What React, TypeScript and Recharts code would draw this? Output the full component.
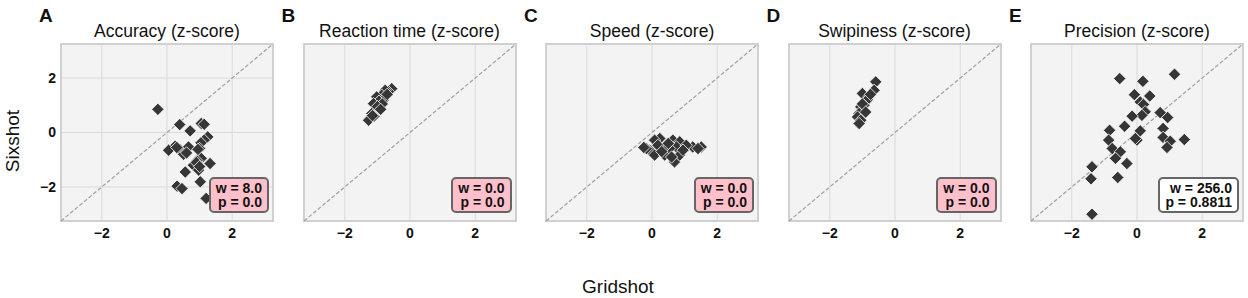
import React from "react";
import {
  ScatterChart,
  Scatter,
  XAxis,
  YAxis,
  CartesianGrid,
  ReferenceLine,
  ReferenceArea,
} from "recharts";

// panel labels and stats
const panelLetters = ["A", "B", "C", "D", "E"];
const panelTitles = [
  "Accuracy (z-score)",
  "Reaction time (z-score)",
  "Speed (z-score)",
  "Swipiness (z-score)",
  "Precision (z-score)",
];
const statW = ["8.0", "0.0", "0.0", "0.0", "256.0"];
const statP = ["0.0", "0.0", "0.0", "0.0", "0.8811"];
const significant = [true, true, true, true, false];
const axisTicks = [-2, 0, 2];
const axisDomain: [number, number] = [-3.25, 3.25];

// Gridshot (x) vs Sixshot (y) z-scores
const accuracyGrid = [-0.28, 0.39, 0.71, 1.05, 1.14, 1.25, 1.14, 1.04, 0.25, 0.05, 0.39, 0.51, 0.66, 1.0, 1.05, 0.92, 0.81, 1.32, 0.97, 0.56, 1.02, 0.31, 0.46, 1.2, 0.3, 0.95, 0.9, 1.0, 0.6];
const accuracySix = [0.85, 0.29, 0.06, 0.33, 0.3, -0.16, -0.28, -0.38, -0.5, -0.65, -0.62, -0.8, -0.53, -0.59, -0.95, -1.04, -1.2, -1.14, -1.38, -1.45, -1.81, -1.97, -2.06, -2.42, -0.55, -0.62, -1.1, -1.25, -0.75];

const reactionGrid = [-0.56, -0.66, -0.76, -0.87, -1.02, -0.82, -0.95, -1.12, -0.92, -1.07, -1.17, -1.22, -1.27, -0.85, -1.0, -0.9, -1.1, -0.7, -1.15];
const reactionSix = [1.61, 1.5, 1.55, 1.37, 1.31, 1.19, 1.15, 1.06, 0.94, 0.82, 0.7, 0.51, 0.45, 1.05, 0.95, 0.85, 0.6, 1.4, 0.62];

const speedGrid = [0.24, 0.08, -0.07, -0.17, 0.08, 0.39, 0.64, 0.85, 0.75, 0.54, 0.44, 0.69, 0.85, 1.25, 1.51, 1.41, 0.18, 1.05, 0.3, 0.6, 0.95, -0.25, 0.5];
const speedSix = [-0.22, -0.28, -0.65, -0.59, -0.83, -0.83, -0.28, -0.34, -0.53, -0.59, -0.47, -1.08, -0.83, -0.53, -0.53, -0.59, -0.47, -0.47, -0.7, -0.9, -0.65, -0.55, -0.4];

const swipinessGrid = [-0.59, -0.64, -1.0, -0.8, -0.9, -1.05, -0.95, -1.1, -1.15, -1.05, -1.1, -0.85, -0.95, -1.0, -0.75, -0.9];
const swipinessSix = [1.86, 1.55, 1.43, 1.31, 1.12, 0.94, 0.82, 0.7, 0.57, 0.45, 0.33, 1.2, 1.0, 1.05, 1.4, 0.75];

const precisionGrid = [-0.53, 0.18, 1.15, -0.08, 0.39, 0.1, 0.2, 0.25, 0.15, -0.15, -0.38, -0.84, -0.87, 0.0, 0.1, 0.71, 0.94, 0.8, 0.8, 1.02, 0.92, 1.45, -0.76, -0.51, -0.66, -0.31, -1.38, -1.41, -0.59, -1.38, -0.05];
const precisionSix = [1.98, 1.88, 2.14, 1.39, 1.34, 1.12, 1.03, 0.76, 0.63, 0.6, 0.23, 0.08, -0.28, -0.28, 0.06, 0.73, 0.55, 0.15, -0.18, -0.32, -0.55, -0.26, -0.59, -0.71, -0.95, -1.14, -1.26, -1.7, -1.65, -3.0, -0.22];

const gridSeries = [accuracyGrid, reactionGrid, speedGrid, swipinessGrid, precisionGrid];
const sixSeries = [accuracySix, reactionSix, speedSix, swipinessSix, precisionSix];

const FONT = "'Liberation Sans', Arial, sans-serif";
const PLOT_W = 212;
const PLOT_H = 177;
const PLOT_TOP = 44;
const Y_AXIS_W = 45;
const X_AXIS_H = 30;

const fmt = (v: number) => (v < 0 ? `\u2212${Math.abs(v)}` : `${v}`);

// matplotlib "D" marker: square rotated 45 degrees
const Diamond = (props: any) => {
  const { cx, cy } = props;
  const r = 6.2;
  return (
    <polygon
      points={`${cx},${cy - r} ${cx + r},${cy} ${cx},${cy + r} ${cx - r},${cy}`}
      fill="#363636"
      stroke="#ffffff"
      strokeWidth={0.8}
    />
  );
};

function Panel({ index }: { index: number }) {
  const left = 61 + index * 242.5;
  const data = gridSeries[index].map((x, i) => ({ x, y: sixSeries[index][i] }));
  const tickStyle = { fontSize: 14, fontWeight: "bold", fill: "#111", fontFamily: FONT };

  return (
    <>
      <div
        style={{
          position: "absolute",
          left: left - 22,
          top: 6,
          fontSize: 19,
          lineHeight: "19px",
          fontWeight: "bold",
          color: "#111",
        }}
      >
        {panelLetters[index]}
      </div>
      <div
        style={{
          position: "absolute",
          left: left - 40,
          width: PLOT_W + 80,
          top: 23,
          textAlign: "center",
          fontSize: 17.5,
          lineHeight: "17px",
          color: "#111",
          whiteSpace: "nowrap",
        }}
      >
        {panelTitles[index]}
      </div>
      <div style={{ position: "absolute", left: left - Y_AXIS_W, top: PLOT_TOP - 5 }}>
        <ScatterChart
          width={Y_AXIS_W + PLOT_W + 5}
          height={5 + PLOT_H + X_AXIS_H}
          margin={{ top: 5, right: 5, bottom: 0, left: 0 }}
        >
          <CartesianGrid fill="#f3f3f3" stroke="#dadada" strokeWidth={1} />
          <XAxis
            type="number"
            dataKey="x"
            domain={axisDomain}
            ticks={axisTicks}
            allowDataOverflow
            height={X_AXIS_H}
            axisLine={false}
            tickLine={false}
            tickSize={0}
            tickMargin={7}
            tickFormatter={fmt}
            tick={tickStyle}
          />
          <YAxis
            type="number"
            dataKey="y"
            domain={axisDomain}
            ticks={axisTicks}
            allowDataOverflow
            width={Y_AXIS_W}
            axisLine={false}
            tickLine={false}
            tickSize={0}
            tickMargin={5}
            tickFormatter={fmt}
            tick={index === 0 ? tickStyle : false}
          />
          <ReferenceArea
            x1={axisDomain[0]}
            x2={axisDomain[1]}
            y1={axisDomain[0]}
            y2={axisDomain[1]}
            fill="none"
            stroke="#d0d0d0"
            strokeWidth={2}
          />
          <ReferenceLine
            segment={[
              { x: axisDomain[0], y: axisDomain[0] },
              { x: axisDomain[1], y: axisDomain[1] },
            ]}
            stroke="#a0a0a0"
            strokeWidth={1.2}
            strokeDasharray="4 2"
          />
          <Scatter data={data} shape={Diamond} isAnimationActive={false} />
        </ScatterChart>
      </div>
      <div
        style={{
          position: "absolute",
          left,
          top: PLOT_TOP,
          width: PLOT_W,
          height: PLOT_H,
          pointerEvents: "none",
        }}
      >
        <div
          style={{
            position: "absolute",
            right: 4,
            bottom: 8.5,
            background: significant[index] ? "#ffc0cb" : "#ffffff",
            border: "2px solid #666",
            borderRadius: 5,
            padding: "2px 5px 2px 5px",
            fontSize: 14,
            lineHeight: "14px",
            fontWeight: "bold",
            color: "#111",
            textAlign: "right",
            whiteSpace: "nowrap",
          }}
        >
          <div>w = {statW[index]}</div>
          <div>p = {statP[index]}</div>
        </div>
      </div>
    </>
  );
}

export default function App() {
  return (
    <div
      style={{
        position: "absolute",
        left: 0,
        top: 0,
        width: 1248,
        height: 298,
        background: "#fff",
        fontFamily: FONT,
        overflow: "hidden",
      }}
    >
      {panelLetters.map((_, i) => (
        <Panel key={i} index={i} />
      ))}
      <div
        style={{
          position: "absolute",
          left: 12,
          top: 141,
          transform: "translate(-50%, -50%) rotate(-90deg)",
          fontSize: 19,
          lineHeight: "19px",
          color: "#111",
          whiteSpace: "nowrap",
        }}
      >
        Sixshot
      </div>
      <div
        style={{
          position: "absolute",
          left: 0,
          width: 1236,
          top: 277,
          textAlign: "center",
          fontSize: 19,
          lineHeight: "19px",
          color: "#111",
        }}
      >
        Gridshot
      </div>
    </div>
  );
}
